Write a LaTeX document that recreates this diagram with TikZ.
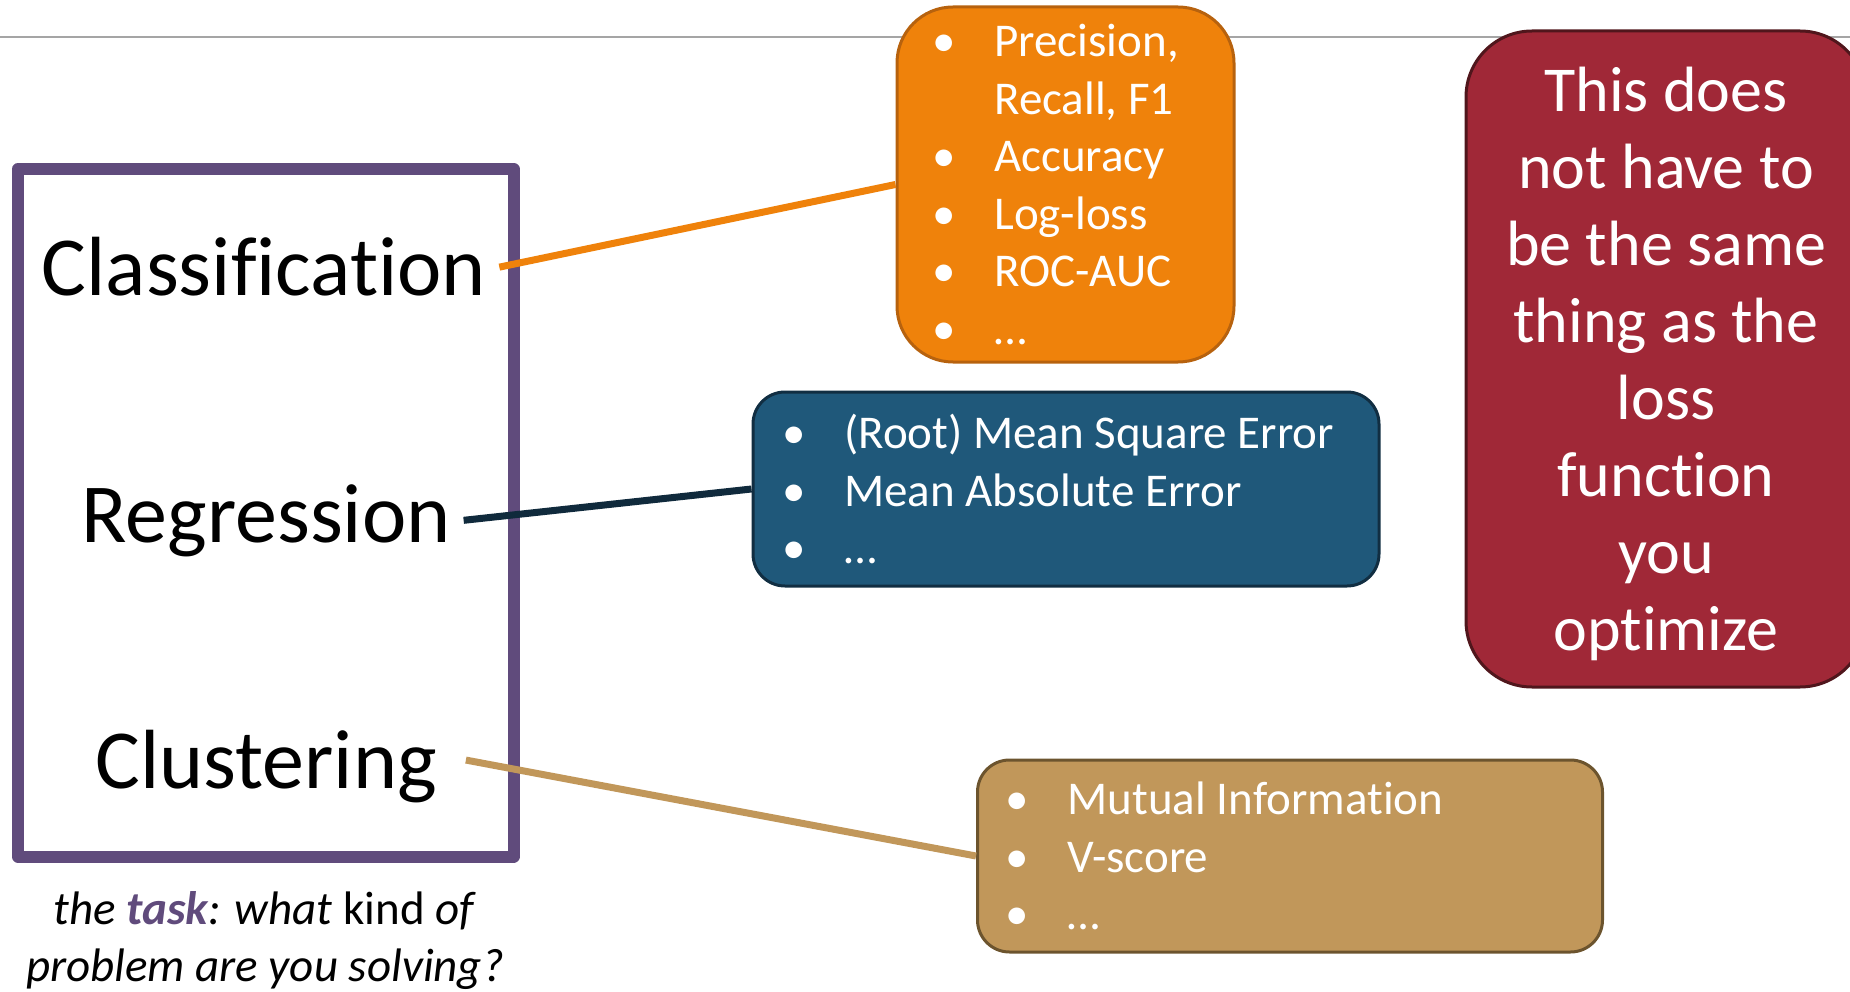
\documentclass[tikz,border=0pt]{standalone}
\usepackage{fontspec}
\setmainfont{Carlito}[Ligatures=NoCommon]
\usetikzlibrary{positioning}

\definecolor{taskpurple}{RGB}{96,75,124}
\definecolor{metorange}{RGB}{239,130,11}
\definecolor{metorangedark}{RGB}{183,98,14}
\definecolor{metblue}{RGB}{31,88,122}
\definecolor{metbluedark}{RGB}{17,46,66}
\definecolor{metnavy}{RGB}{16,42,60}
\definecolor{metred}{RGB}{160,40,55}
\definecolor{metreddark}{RGB}{80,22,28}
\definecolor{metgold}{RGB}{193,151,90}
\definecolor{metgolddark}{RGB}{108,84,46}
\definecolor{rulegray}{RGB}{165,165,165}

\newcommand{\bl}{\makebox[62pt][l]{\textbullet}}
\newcommand{\nobl}{\makebox[62pt]{}}

\begin{document}
\begin{tikzpicture}[x=1pt,y=-1pt,
    kindlabel/.style={font=\fontsize{84}{100}\selectfont, inner xsep=13pt},
    metbox/.style={draw, line width=3pt, rounded corners=#1, inner sep=0pt},
    lst/.style={text=white, align=left, inner sep=0pt, font=\fontsize{47}{57.5}\selectfont},
    conn/.style={line width=7pt}]
    \useasboundingbox (0,0) rectangle (1850,992);
    \draw [rulegray, line width=2pt] (0,37) -- (1850,37);

    \node [draw=taskpurple, line width=12pt, line join=round, inner sep=0pt,
        minimum width=495.5pt, minimum height=687.5pt] (frame) at (265.75,512.75) {};
    \node [kindlabel, anchor=base] (cls) at (264,296) {Classification};
    \node [kindlabel, anchor=base] (rgr) at (266,542) {Regression};
    \node [kindlabel, anchor=base] (clu) at (266,788) {Clustering};
    \node [align=center, inner sep=0pt, font=\fontsize{47}{57}\selectfont] (cap) at (265,941)
        {\textit{the \textbf{\color{taskpurple}task}: what} kind \textit{of}\\ \textit{problem are you solving?}};

    \node [metbox=56pt, draw=metorangedark, fill=metorange,
        minimum width=337pt, minimum height=355pt] (prec) at (1065.5,184.5) {};
    \node [lst, right=36.6pt of prec.west] (precl)
        {\bl Precision,\\ \nobl Recall, F1\\ \bl Accuracy\\ \bl Log-loss\\ \bl ROC-AUC\\ \bl …};

    \node [metbox=32pt, draw=metbluedark, fill=metblue,
        minimum width=626pt, minimum height=194pt] (rmse) at (1066,489) {};
    \node [lst, right=30.6pt of rmse.west] (rmsel)
        {\bl (Root) Mean Square Error\\ \bl Mean Absolute Error\\ \bl …};

    \node [metbox=32pt, draw=metgolddark, fill=metgold,
        minimum width=625pt, minimum height=192pt] (mi) at (1290,856) {};
    \node [lst, right=29.5pt of mi.west] (mil)
        {\bl Mutual Information\\ \bl V-score\\ \bl …};

    \node [metbox=66pt, draw=metreddark, fill=metred,
        minimum width=400pt, minimum height=656pt] (note) at (1666,359) {};
    \node [text=white, align=center, inner sep=0pt, font=\fontsize{64}{77}\selectfont] (notel)
        at ([yshift=-5pt]note.center)
        {This does\\ not have to\\ be the same\\ thing as the\\ loss\\ function\\ you\\ optimize};

    \draw [conn, metorange] (cls.east) -- (prec.west);
    \draw [conn, metnavy] (rgr.east) -- (rmse.west);
    \draw [conn, metgold] ([xshift=16pt, yshift=6pt]clu.east) -- (mi.west);
\end{tikzpicture}
\end{document}
